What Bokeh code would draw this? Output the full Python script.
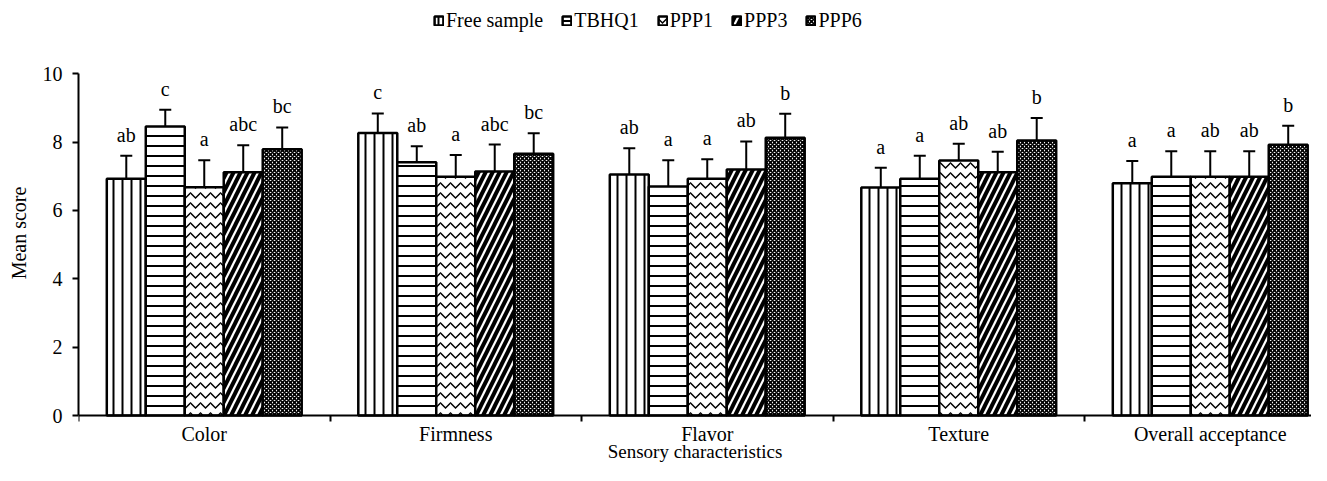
from bokeh.plotting import figure
from bokeh.models import Whisker, TeeHead, ColumnDataSource, FixedTicker
from bokeh.core.properties import value
from bokeh.embed import file_html
from bokeh.resources import INLINE
import numpy as np

categories = ["Color", "Firmness", "Flavor", "Texture", "Overall acceptance"]
series_names = ["Free sample", "TBHQ1", "PPP1", "PPP3", "PPP6"]

free_sample_mean = [6.93, 8.27, 7.05, 6.67, 6.80]
tbhq1_mean = [8.46, 7.41, 6.70, 6.93, 6.99]
ppp1_mean = [6.68, 6.99, 6.93, 7.46, 6.99]
ppp3_mean = [7.12, 7.14, 7.20, 7.12, 6.99]
ppp6_mean = [7.79, 7.66, 8.13, 8.05, 7.92]

free_sample_err = [0.67, 0.57, 0.77, 0.58, 0.65]
tbhq1_err = [0.49, 0.47, 0.77, 0.67, 0.74]
ppp1_err = [0.79, 0.63, 0.57, 0.49, 0.74]
ppp3_err = [0.79, 0.79, 0.82, 0.60, 0.74]
ppp6_err = [0.64, 0.60, 0.70, 0.66, 0.56]

free_sample_letters = ["ab", "c", "ab", "a", "a"]
tbhq1_letters = ["c", "ab", "a", "a", "a"]
ppp1_letters = ["a", "a", "a", "ab", "ab"]
ppp3_letters = ["abc", "abc", "ab", "ab", "ab"]
ppp6_letters = ["bc", "bc", "b", "b", "b"]

y_ticks = [0, 2, 4, 6, 8, 10]

means = [free_sample_mean, tbhq1_mean, ppp1_mean, ppp3_mean, ppp6_mean]
errs = [free_sample_err, tbhq1_err, ppp1_err, ppp3_err, ppp6_err]
letters = [free_sample_letters, tbhq1_letters, ppp1_letters, ppp3_letters, ppp6_letters]

styles = [
    dict(hatch_pattern="vertical_line", hatch_scale=9, hatch_weight=2, fill_color="white"),
    dict(hatch_pattern="horizontal_line", hatch_scale=10, hatch_weight=2, fill_color="white"),
    dict(hatch_pattern="horizontal_wave", hatch_scale=10, hatch_weight=1.5, fill_color="white"),
    dict(hatch_pattern="right_diagonal_line", hatch_scale=14, hatch_weight=4, fill_color="white"),
    dict(hatch_pattern="diagonal_cross", hatch_scale=4, hatch_weight=1.7, fill_color="white"),
]

FONT = "'Liberation Serif', 'Times New Roman', serif"
n_cat = len(categories)
bar_w = 0.155

W, H = 1311, 465
left = 78
px_per_cat = 251.5
px_per_unit = 34.17
y0_px = 415

p = figure(width=W, height=H,
           x_range=(0, (W - left) / px_per_cat),
           y_range=(-(H - y0_px) / px_per_unit, y0_px / px_per_unit),
           output_backend="svg", toolbar_location=None,
           min_border_left=left, min_border_right=0, min_border_top=0, min_border_bottom=0)
p.outline_line_color = None
p.xgrid.visible = False
p.ygrid.visible = False

centers = np.arange(n_cat) + 0.5
for j, name in enumerate(series_names):
    xs = centers + (j - 2) * bar_w
    m = np.array(means[j])
    e = np.array(errs[j])
    src = ColumnDataSource(dict(x=xs, top=m, upper=m + e, lower=m - e, lab=letters[j]))
    p.vbar(x="x", top="top", width=bar_w, bottom=0, source=src,
           line_color="black", line_width=2.5, hatch_color="black",
           legend_label=name, **styles[j])
    w = Whisker(base="x", upper="upper", lower="lower", source=src,
                line_color="black", line_width=2,
                upper_head=TeeHead(size=12, line_width=2, line_color="black"),
                lower_head=TeeHead(size=12, line_width=2, line_color="black"))
    p.add_layout(w)
    p.text(x="x", y="upper", text="lab", source=src, y_offset=-21,
           text_align="center", text_baseline="alphabetic",
           text_font=value(FONT), text_font_size="20px", text_color="black")

# x axis (drawn at y = 0)
p.xaxis.fixed_location = 0
p.xaxis.ticker = FixedTicker(ticks=list(centers), minor_ticks=list(range(n_cat + 1)))
p.xaxis.major_label_overrides = {float(c): categories[i] for i, c in enumerate(centers)}
p.xaxis.major_tick_out = 0
p.xaxis.major_tick_in = 0
p.xaxis.minor_tick_out = 6
p.xaxis.minor_tick_in = 0
p.xaxis.minor_tick_line_width = 2
p.xaxis.minor_tick_line_color = "black"
p.xaxis.axis_label = "Sensory characteristics"
p.xaxis.major_label_standoff = 1
p.xaxis.axis_label_standoff = -7

# y axis
p.yaxis.ticker = FixedTicker(ticks=y_ticks, minor_ticks=[])
p.yaxis.bounds = (0, 10)
p.yaxis.major_tick_out = 6
p.yaxis.major_tick_in = 0
p.yaxis.axis_label = "Mean score"
p.yaxis.major_label_standoff = 10
p.yaxis.axis_label_standoff = 10

for ax in (p.xaxis[0], p.yaxis[0]):
    ax.axis_line_width = 2
    ax.axis_line_color = "black"
    ax.major_tick_line_width = 2
    ax.major_tick_line_color = "black"
    ax.major_label_text_font = FONT
    ax.major_label_text_font_size = "20px"
    ax.major_label_text_color = "black"
    ax.axis_label_text_font = FONT
    ax.axis_label_text_font_size = "20px"
    ax.axis_label_text_font_style = "normal"
    ax.axis_label_text_color = "black"
p.xaxis.axis_label_text_font_size = "19px"

lg = p.legend[0]
lg.location = (435 - left - 2, H - 32)
lg.orientation = "horizontal"
lg.border_line_color = None
lg.background_fill_alpha = 0
lg.margin = 0
lg.padding = 2
lg.spacing = 18
lg.label_standoff = 2
lg.glyph_width = 11
lg.glyph_height = 11
lg.label_height = 20
lg.label_text_font = FONT
lg.label_text_font_style = "normal"
lg.label_text_font_size = "20px"
lg.label_text_color = "black"

open("out.html", "w").write(file_html(p, INLINE))
